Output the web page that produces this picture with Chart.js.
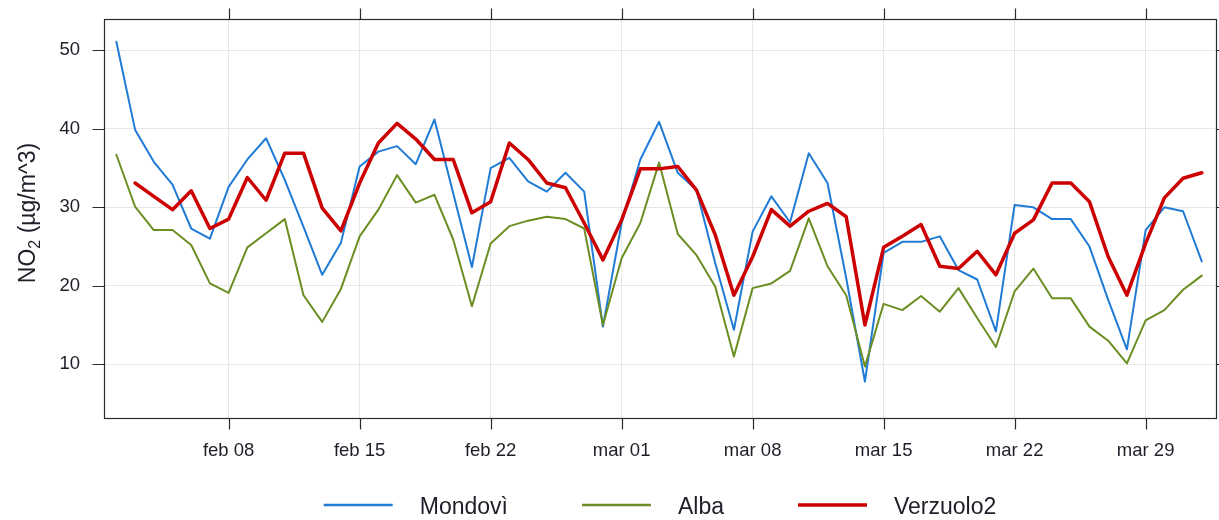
<!DOCTYPE html>
<html>
<head>
<meta charset="utf-8">
<title>NO2 daily means</title>
<script src="https://cdn.jsdelivr.net/npm/chart.js@4.4.1/dist/chart.umd.min.js"></script>
<style>
  html, body { margin: 0; padding: 0; background: #ffffff; }
  #wrap { width: 1219px; height: 520px; position: relative; }
</style>
</head>
<body>
<div id="wrap"><canvas id="chart" width="1219" height="520"></canvas></div>
<script>
// Day offsets counted from 1 February (feb 02 = 1 ... apr 01 = 59)
const days = [
  1, 2, 3, 4, 5, 6, 7, 8, 9, 10, 11, 12, 13, 14, 15, 16, 17, 18, 19, 20,
  21, 22, 23, 24, 25, 26, 27, 28, 29, 30, 31, 32, 33, 34, 35, 36, 37, 38, 39, 40,
  41, 42, 43, 44, 45, 46, 47, 48, 49, 50, 51, 52, 53, 54, 55, 56, 57, 58, 59
];

// Daily NO2 means, µg/m^3
const mondovi = [
  51.1, 39.9, 35.8, 32.9, 27.3, 26.0, 32.6, 36.1, 38.8, 33.5,
  27.5, 21.4, 25.5, 35.2, 37.1, 37.8, 35.5, 41.2, 31.8, 22.4,
  35.0, 36.3, 33.3, 32.0, 34.4, 32.0, 14.8, 28.0, 36.1, 40.9,
  34.4, 32.2, 22.9, 14.4, 26.9, 31.4, 28.1, 36.9, 33.1, 21.0,
  7.8, 24.2, 25.6, 25.6, 26.3, 22.0, 20.8, 14.2, 30.3, 30.0,
  28.5, 28.5, 25.0, 18.2, 11.9, 27.1, 30.0, 29.5, 23.1
];

const alba = [
  36.7, 30.1, 27.1, 27.1, 25.2, 20.3, 19.1, 24.9, 26.7, 28.5,
  18.8, 15.4, 19.6, 26.3, 29.7, 34.1, 30.6, 31.6, 25.9, 17.4,
  25.4, 27.6, 28.3, 28.8, 28.5, 27.3, 15.0, 23.5, 28.0, 35.7,
  26.6, 23.9, 19.9, 11.0, 19.7, 20.3, 21.9, 28.6, 22.5, 18.8,
  9.7, 17.7, 16.9, 18.7, 16.7, 19.7, 15.9, 12.2, 19.3, 22.2,
  18.4, 18.4, 14.8, 13.0, 10.1, 15.6, 16.9, 19.5, 21.3
];

const verzuolo2 = [
  null, 33.1, 31.4, 29.7, 32.1, 27.3, 28.5, 33.8, 30.9, 36.9,
  36.9, 29.9, 27.0, 33.1, 38.2, 40.7, 38.7, 36.1, 36.1, 29.3,
  30.7, 38.2, 36.1, 33.1, 32.5, 28.0, 23.3, 28.4, 34.9, 34.9,
  35.2, 32.2, 26.5, 18.8, 23.7, 29.7, 27.6, 29.5, 30.5, 28.8,
  15.0, 24.9, 26.3, 27.8, 22.5, 22.2, 24.4, 21.4, 26.7, 28.4,
  33.1, 33.1, 30.7, 23.7, 18.8, 25.4, 31.2, 33.7, 34.4
];

// Axis ticks
const tickDays = [7, 14, 21, 28, 35, 42, 49, 56];
const tickLabels = ['feb 08', 'feb 15', 'feb 22', 'mar 01', 'mar 08', 'mar 15', 'mar 22', 'mar 29'];
const yTicks = [10, 20, 30, 40, 50];

const seriesNames = ['Mondovì', 'Alba', 'Verzuolo2'];
const seriesColors = ['#1f7bd6', '#6b8e23', '#cc0000'];
const seriesWidths = [2, 2, 3.5];

const FONT = '"Liberation Sans", Arial, sans-serif';
const TEXT = '#1e1e28';

const toPoints = (vals) => days.map((d, i) => ({ x: d, y: vals[i] }));

// Frame, tick marks, axis title and legend drawn on top of the plot
const framePlugin = {
  id: 'frame',
  afterDraw(chart) {
    const ctx = chart.ctx;
    const a = chart.chartArea;
    const xs = chart.scales.x, ys = chart.scales.y;
    const L = Math.round(a.left) + 0.5, R = Math.round(a.right) + 0.5;
    const T = Math.round(a.top) + 0.5, B = Math.round(a.bottom) + 0.5;
    ctx.save();
    ctx.strokeStyle = '#2b2b2b';
    ctx.lineWidth = 1.2;
    ctx.strokeRect(L, T, R - L, B - T);
    ctx.beginPath();
    tickDays.forEach(d => {
      const px = Math.round(xs.getPixelForValue(d)) + 0.5;
      ctx.moveTo(px, B); ctx.lineTo(px, B + 11);
      ctx.moveTo(px, T); ctx.lineTo(px, T - 11);
    });
    yTicks.forEach(v => {
      const py = Math.round(ys.getPixelForValue(v)) + 0.5;
      ctx.moveTo(L, py); ctx.lineTo(L - 12, py);
      ctx.moveTo(R, py); ctx.lineTo(R + 12, py);
    });
    ctx.stroke();

    // y axis title with subscript
    ctx.fillStyle = TEXT;
    ctx.translate(27, 213);
    ctx.rotate(-Math.PI / 2);
    ctx.textBaseline = 'alphabetic';
    ctx.textAlign = 'left';
    const big = '23px ' + FONT, small = '16px ' + FONT;
    ctx.font = big; const w1 = ctx.measureText('NO').width;
    ctx.font = small; const w2 = ctx.measureText('2').width;
    ctx.font = big; const w3 = ctx.measureText(' (µg/m^3)').width;
    let x0 = -(w1 + w2 + w3) / 2;
    const base = 8;
    ctx.font = big; ctx.fillText('NO', x0, base);
    ctx.font = small; ctx.fillText('2', x0 + w1, base + 5);
    ctx.font = big; ctx.fillText(' (µg/m^3)', x0 + w1 + w2, base);
    ctx.restore();

    // legend
    ctx.save();
    ctx.font = '23px ' + FONT;
    ctx.textBaseline = 'middle';
    ctx.textAlign = 'left';
    const lineLen = 69, gapText = 27, gapItem = 74;
    const widths = seriesNames.map(n => ctx.measureText(n).width);
    const total = widths.reduce((s, w) => s + w, 0) + seriesNames.length * (lineLen + gapText) + (seriesNames.length - 1) * gapItem;
    let lx = (a.left + a.right) / 2 - total / 2;
    const ly = 505;
    seriesNames.forEach((n, i) => {
      ctx.strokeStyle = seriesColors[i];
      ctx.lineWidth = seriesWidths[i] === 2 ? 2.5 : 3.5;
      ctx.beginPath();
      ctx.moveTo(lx, ly); ctx.lineTo(lx + lineLen, ly);
      ctx.stroke();
      ctx.fillStyle = TEXT;
      ctx.fillText(n, lx + lineLen + gapText, ly + 3);
      lx += lineLen + gapText + widths[i] + gapItem;
    });
    ctx.restore();
  }
};

new Chart(document.getElementById('chart'), {
  type: 'line',
  data: {
    datasets: [
      { label: seriesNames[0], data: toPoints(mondovi), borderColor: seriesColors[0], borderWidth: seriesWidths[0], order: 2 },
      { label: seriesNames[1], data: toPoints(alba), borderColor: seriesColors[1], borderWidth: seriesWidths[1], order: 1 },
      { label: seriesNames[2], data: toPoints(verzuolo2), borderColor: seriesColors[2], borderWidth: seriesWidths[2], order: 0 }
    ]
  },
  options: {
    responsive: false,
    animation: false,
    devicePixelRatio: 1,
    layout: { padding: { top: 19, right: 3, left: 0, bottom: 0 } },
    elements: {
      point: { radius: 0, hoverRadius: 0 },
      line: { tension: 0, fill: false, borderJoinStyle: 'round', borderCapStyle: 'round' }
    },
    plugins: {
      legend: { display: false },
      tooltip: { enabled: false }
    },
    events: [],
    scales: {
      x: {
        type: 'linear',
        min: 0.34,
        max: 59.76,
        afterBuildTicks: (s) => { s.ticks = tickDays.map(v => ({ value: v })); },
        afterFit: (s) => { s.height = 102; s.paddingLeft = 0; s.paddingRight = 0; },
        border: { display: false },
        grid: { color: '#e6e6e6', lineWidth: 1, drawTicks: false },
        ticks: {
          autoSkip: false,
          maxRotation: 0,
          padding: 22,
          color: TEXT,
          font: { family: FONT, size: 18.5 },
          callback: (v) => tickLabels[tickDays.indexOf(v)]
        }
      },
      y: {
        type: 'linear',
        min: 3.15,
        max: 54.0,
        afterBuildTicks: (s) => { s.ticks = yTicks.map(v => ({ value: v })); },
        afterFit: (s) => { s.width = 104; s.paddingTop = 0; s.paddingBottom = 0; },
        border: { display: false },
        grid: { color: '#e6e6e6', lineWidth: 1, drawTicks: false },
        ticks: {
          padding: 24,
          color: TEXT,
          font: { family: FONT, size: 18.5 },
          callback: (v) => String(v)
        }
      }
    }
  },
  plugins: [framePlugin]
});
</script>
</body>
</html>
